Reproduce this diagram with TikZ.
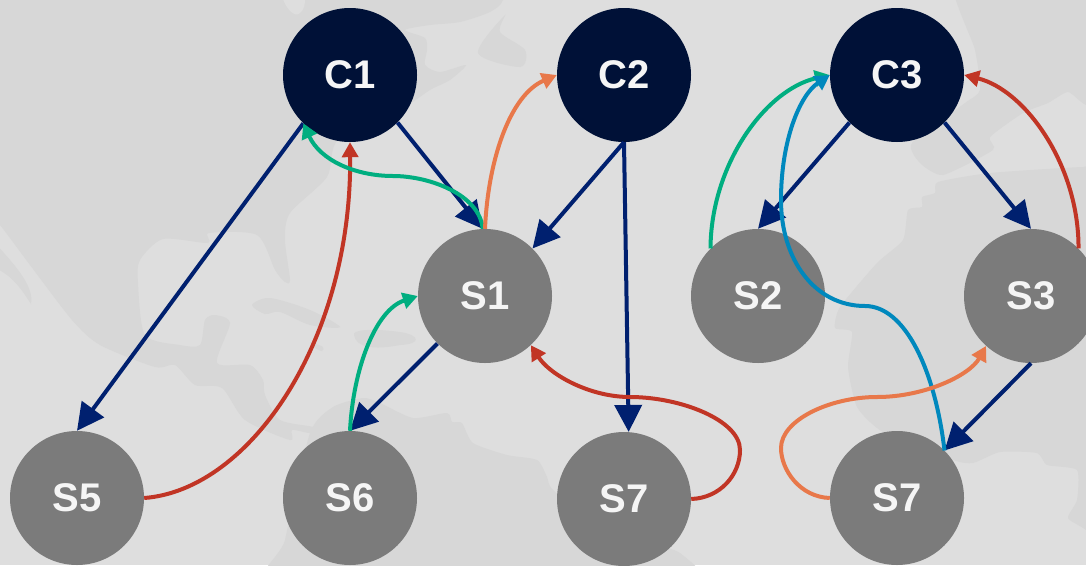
\documentclass[tikz,border=0pt]{standalone}
\usepackage{fontspec}
\setmainfont{Liberation Sans}
\usetikzlibrary{arrows.meta}
\definecolor{bgc}{HTML}{DEDEDE}
\definecolor{landc}{HTML}{D7D7D7}
\definecolor{darknode}{HTML}{001137}
\definecolor{graynode}{HTML}{7B7B7B}
\definecolor{navyc}{HTML}{00206F}
\definecolor{greenc}{HTML}{00AE80}
\definecolor{orangec}{HTML}{E8784A}
\definecolor{bluec}{HTML}{0088BD}
\definecolor{redc}{HTML}{C13525}
\tikzset{
  x=1pt,y=-1pt,
  basenode/.style={circle,minimum size=134pt,inner sep=0pt,text=white!96!black,font=\fontsize{40}{40}\selectfont\bfseries},
  cnode/.style={basenode,fill=darknode},
  snode/.style={basenode,fill=graynode},
  navyline/.style={draw=navyc,line width=4pt,-{Triangle[length=27pt,width=27pt]}},
  curveline/.style={line width=4pt,-{Triangle[length=15pt,width=16pt]}}
}
\begin{document}
\begin{tikzpicture}
\useasboundingbox (0,0) rectangle (1086,565);
\fill[bgc] (0,0) rectangle (1086,565);
\begin{scope}
\clip (0,0) rectangle (1086,565);
% north america
\fill[landc] plot[smooth cycle,tension=0.45] coordinates {(-30,-30) (503,-30) (503,0) (490,12) (460,22) (430,25) (405,30) (425,38) (427,50) (425,65) (440,72) (466,65) (450,80) (430,90) (400,110) (338,140) (327,177) (290,213) (285,240) (290,280) (285,282) (275,270) (257,235) (209,233) (208,243) (163,239) (140,260) (138,283) (145,335) (180,345) (200,345) (205,320) (215,315) (230,323) (217,363) (250,365) (263,380) (265,395) (280,420) (313,427) (310,433) (292,430) (290,440) (245,420) (222,388) (195,385) (175,365) (155,367) (100,345) (72,320) (30,265) (0,225) (-30,190)};
\fill[bgc] (280,-10) .. controls (285,10) and (295,18) .. (300,13) .. controls (306,8) and (305,0) .. (305,-10) -- cycle;
\fill[bgc] (432,30) .. controls (440,30) and (448,32) .. (452,35) .. controls (448,40) and (440,38) .. (432,30) -- cycle;
\fill[landc] plot[smooth cycle,tension=0.5] coordinates {(505,15) (500,32) (525,50) (520,67) (478,53)};
% baja and islands
\fill[landc] (-5,243) .. controls (10,260) and (35,285) .. (31,304) .. controls (22,290) and (12,275) .. (-5,268) -- cycle;
\fill[landc] plot[smooth cycle,tension=0.5] coordinates {(252,305) (270,298) (310,310) (340,327) (310,325) (280,312) (265,314)};
\fill[landc] plot[smooth cycle,tension=0.5] coordinates {(310,342) (323,347) (322,351) (315,348)};
\fill[landc] (354,335) .. controls (352,330) and (370,328) .. (400,332) .. controls (420,335) and (422,344) .. (400,345) .. controls (375,350) and (356,348) .. (354,335) -- cycle;
% south america
\fill[landc] plot[smooth cycle,tension=0.4] coordinates {(275,600) (285,540) (310,433) (333,407) (363,398) (380,403) (413,418) (447,413) (452,422) (462,423) (473,443) (507,455) (537,460) (547,477) (553,490) (600,530) (680,553) (690,600)};
% africa
\fill[landc] plot[smooth cycle,tension=0.35] coordinates {(840,307) (877,263) (903,240) (908,210) (922,207) (922,197) (935,193) (938,182) (990,173) (1083,167) (1120,170) (1120,560) (1086,530) (1068,518) (1077,500) (1077,470) (1047,465) (1037,453) (1000,452) (973,463) (953,460) (883,432) (857,407) (848,367) (852,332) (835,328)};
% europe
\fill[landc] plot[smooth cycle,tension=0.35] coordinates {(955,-30) (975,50) (980,90) (965,103) (912,143) (920,163) (943,175) (993,150) (990,137) (1023,113) (1048,103) (1068,92) (1086,105) (1120,110) (1120,-30)};
\end{scope}

\node[cnode] (c1) at (350,75) {C1};
\node[cnode] (c2) at (624,75) {C2};
\node[cnode] (c3) at (897,75) {C3};
\node[snode] (s1) at (485,296) {S1};
\node[snode] (s2) at (758,296) {S2};
\node[snode] (s3) at (1031,296) {S3};
\node[snode] (s5) at (77,498) {S5};
\node[snode] (s6) at (350,498) {S6};
\node[snode] (s7) at (624,499) {S7};
\node[snode] (s7b) at (897,498) {S7};

\coordinate (gm) at (393,176);
\coordinate (rm1) at (740,450);
\coordinate (rm2) at (630,397);
\coordinate (om1) at (781,448);
\coordinate (om2) at (877,397);
\coordinate (bm1) at (865,306);
\coordinate (bm2) at (781,200);

\draw[navyline] (c1.-134) -- (s5.90);
\draw[navyline] (c1.-45) -- (s1.92);
\draw[navyline] (c2.-90) -- (s1.45);
\draw[navyline] (c2.-90) -- (s7.86);
\draw[navyline] (c3.-135) -- (s2.90);
\draw[navyline] (c3.-45) -- (s3.90);
\draw[navyline] (s1.-135) -- (s6.90);
\draw[navyline] (s3.-90) -- (s7b.45);

\draw[curveline,redc] (s5.0) .. controls (250,490) and (352,340) .. (c1.-90);
\draw[curveline,greenc] (s1.92) .. controls (480,195) and (430,176) .. (gm) .. controls (355,176) and (320,160) .. (c1.-134);
\draw[curveline,orangec] (s1.90) .. controls (488,160) and (510,95) .. (c2.180);
\draw[curveline,greenc] (s6.90) .. controls (353,370) and (375,310) .. (s1.180);
\draw[curveline,redc] (s7.0) .. controls (720,498) and (740,475) .. (rm1) .. controls (740,420) and (680,397) .. (rm2) .. controls (590,397) and (550,375) .. (s1.-47);
\draw[curveline,greenc] (s2.135) .. controls (711,165) and (765,90) .. (c3.180);
\draw[curveline,bluec] (s7b.45) .. controls (935,370) and (905,306) .. (bm1) .. controls (815,306) and (781,260) .. (bm2) .. controls (781,140) and (800,95) .. (c3.180);
\draw[curveline,redc] (s3.45) .. controls (1079,165) and (1025,90) .. (c3.0);
\draw[curveline,orangec] (s7b.180) .. controls (800,497) and (781,470) .. (om1) .. controls (781,420) and (830,397) .. (om2) .. controls (925,397) and (970,375) .. (s3.-132);
\end{tikzpicture}
\end{document}
